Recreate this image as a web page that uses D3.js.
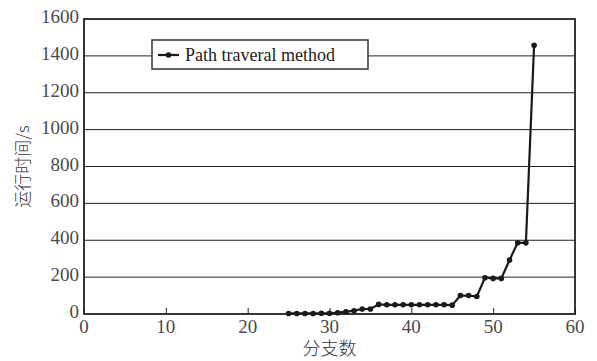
<!DOCTYPE html>
<html>
<head>
<meta charset="utf-8">
<script src="https://cdn.jsdelivr.net/npm/d3@7"></script>
<style>
  body { margin: 0; background: #fff; }
  svg { display: block; }
</style>
</head>
<body>
<div id="chart"></div>
<script>
// branch count (x) and run time in seconds (y)
const branches = [25, 26, 27, 28, 29, 30, 31, 32, 33, 34, 35, 36, 37, 38, 39, 40,
  41, 42, 43, 44, 45, 46, 47, 48, 49, 50, 51, 52, 53, 54, 55];
const runTime = [3, 3, 3, 3, 4, 4, 7, 12, 18, 27, 27, 52, 50, 50, 50, 50,
  50, 50, 50, 50, 48, 100, 100, 95, 197, 193, 193, 293, 386, 386, 1458];
const xTicks = [0, 10, 20, 30, 40, 50, 60];
const yTicks = [0, 200, 400, 600, 800, 1000, 1200, 1400, 1600];
const seriesName = 'Path traveral method';

const width = 597;
const height = 361;
const margin = { top: 19, right: 22, bottom: 47, left: 84 };
const serif = '"Liberation Serif", "DejaVu Serif", serif';

const svg = d3.select('#chart').append('svg')
  .attr('width', width)
  .attr('height', height);

const x = d3.scaleLinear().domain([0, 60]).range([margin.left, width - margin.right]);
const y = d3.scaleLinear().domain([0, 1600]).range([height - margin.bottom, margin.top]);

// grid lines
svg.append('g')
  .selectAll('line')
  .data(yTicks.slice(1, -1))
  .join('line')
  .attr('x1', x(0)).attr('x2', x(60))
  .attr('y1', d => y(d)).attr('y2', d => y(d))
  .attr('stroke', '#222')
  .attr('stroke-width', 1);

// x ticks (inward marks only, labels drawn below)
const xAxis = svg.append('g')
  .attr('transform', `translate(0,${y(0)})`)
  .call(d3.axisBottom(x).tickValues(xTicks).tickSize(-6).tickFormat(''));
xAxis.select('.domain').remove();
xAxis.selectAll('.tick line').attr('stroke', '#222');

// tick labels
svg.append('g')
  .selectAll('text')
  .data(xTicks)
  .join('text')
  .attr('x', d => x(d))
  .attr('y', y(0) + 19)
  .attr('text-anchor', 'middle')
  .attr('font-family', serif)
  .attr('font-size', 19)
  .attr('fill', '#4a4a4a')
  .text(d => d);

svg.append('g')
  .selectAll('text')
  .data(yTicks)
  .join('text')
  .attr('x', x(0) - 5)
  .attr('y', d => y(d) + 4)
  .attr('text-anchor', 'end')
  .attr('font-family', serif)
  .attr('font-size', 19)
  .attr('fill', '#4a4a4a')
  .text(d => d);

// frame
svg.append('rect')
  .attr('x', x(0)).attr('y', y(1600))
  .attr('width', x(60) - x(0)).attr('height', y(0) - y(1600))
  .attr('fill', 'none')
  .attr('stroke', '#222')
  .attr('stroke-width', 1.8);

// axis titles
svg.append('text')
  .attr('x', (x(0) + x(60)) / 2)
  .attr('y', 355)
  .attr('text-anchor', 'middle')
  .attr('font-family', '"Noto Sans CJK SC", sans-serif')
  .attr('font-size', 18)
  .attr('font-weight', 300)
  .attr('fill', '#333')
  .text('分支数');

svg.append('text')
  .attr('transform', `translate(29,${(y(0) + y(1600)) / 2}) rotate(-90)`)
  .attr('text-anchor', 'middle')
  .attr('font-family', '"Noto Sans CJK SC", sans-serif')
  .attr('font-size', 17)
  .attr('font-weight', 300)
  .attr('fill', '#333')
  .text('运行时间/s');

// series
const pts = branches.map((b, i) => [b, runTime[i]]);
svg.append('path')
  .datum(pts)
  .attr('d', d3.line().x(d => x(d[0])).y(d => y(d[1])))
  .attr('fill', 'none')
  .attr('stroke', '#1a1a1a')
  .attr('stroke-width', 2.2)
  .attr('stroke-linejoin', 'round');

svg.append('g')
  .selectAll('circle')
  .data(pts)
  .join('circle')
  .attr('cx', d => x(d[0]))
  .attr('cy', d => y(d[1]))
  .attr('r', 2.8)
  .attr('fill', '#1a1a1a');

// legend
const legend = svg.append('g').attr('transform', 'translate(152,40)');
legend.append('rect')
  .attr('width', 216).attr('height', 29)
  .attr('fill', '#fff')
  .attr('stroke', '#333')
  .attr('stroke-width', 1.5);
legend.append('line')
  .attr('x1', 6).attr('x2', 27).attr('y1', 15).attr('y2', 15)
  .attr('stroke', '#1a1a1a').attr('stroke-width', 2.2);
legend.append('circle')
  .attr('cx', 16.5).attr('cy', 15).attr('r', 2.8).attr('fill', '#1a1a1a');
legend.append('text')
  .attr('x', 33).attr('y', 21)
  .attr('font-family', serif)
  .attr('font-size', 18)
  .attr('fill', '#222')
  .text(seriesName);
</script>
</body>
</html>
